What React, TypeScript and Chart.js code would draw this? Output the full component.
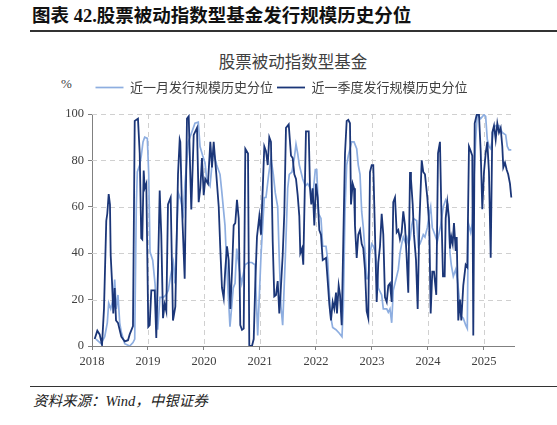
import React, { useEffect, useRef } from "react";
import { Chart, registerables } from "chart.js";

Chart.register(...registerables);

// Time positions are given as years elapsed since the start of BASE_YEAR.
const BASE_YEAR = 2018;
const yearTicks = [2018, 2019, 2020, 2021, 2022, 2023, 2024, 2025];
const valueTicks = [0, 20, 40, 60, 80, 100];
const X_MAX = 2025.536;

const seriesNames = ["近一月发行规模历史分位", "近一季度发行规模历史分位"];

// 近一月发行规模历史分位 (light blue)
const monthT = [
  0.071, 0.161, 0.227, 0.273, 0.298, 0.334, 0.375, 0.405, 0.434, 0.464, 0.495, 0.523, 0.584, 0.673, 0.732, 0.763,
  0.791, 0.809, 0.852, 0.88, 0.911, 0.941, 0.988, 1.013, 1.036, 1.084, 1.125, 1.173, 1.214, 1.273, 1.321, 1.363,
  1.402, 1.452, 1.482, 1.541, 1.584, 1.63, 1.661, 1.72, 1.78, 1.839, 1.898, 1.929, 1.977, 2.018, 2.048, 2.107,
  2.166, 2.227, 2.286, 2.316, 2.375, 2.405, 2.464, 2.523, 2.554, 2.584, 2.643, 2.673, 2.732, 2.791, 2.852, 2.911,
  2.959, 3.018, 3.077, 3.107, 3.155, 3.196, 3.238, 3.273, 3.316, 3.345, 3.375, 3.405, 3.452, 3.495, 3.523, 3.571,
  3.613, 3.643, 3.673, 3.702, 3.763, 3.809, 3.852, 3.898, 3.941, 3.988, 4.013, 4.048, 4.089, 4.12, 4.179, 4.209,
  4.238, 4.268, 4.298, 4.357, 4.416, 4.464, 4.488, 4.518, 4.548, 4.577, 4.637, 4.679, 4.727, 4.755, 4.786, 4.816,
  4.845, 4.875, 4.905, 4.934, 4.964, 4.995, 5.023, 5.054, 5.084, 5.113, 5.173, 5.202, 5.263, 5.291, 5.321, 5.352,
  5.38, 5.411, 5.441, 5.47, 5.5, 5.53, 5.559, 5.589, 5.62, 5.648, 5.679, 5.709, 5.738, 5.798, 5.827, 5.857,
  5.888, 5.916, 5.946, 5.988, 6.023, 6.048, 6.077, 6.107, 6.166, 6.227, 6.273, 6.316, 6.357, 6.393, 6.416, 6.452,
  6.495, 6.523, 6.554, 6.584, 6.63, 6.673, 6.702, 6.72, 6.763, 6.791, 6.821, 6.852, 6.88, 6.941, 7.0, 7.03,
  7.059, 7.089, 7.12, 7.148, 7.179, 7.209, 7.268, 7.327, 7.388, 7.416, 7.446, 7.488,
];
const monthValues = [
  3, 1, 4, 10, 18.5, 16, 20, 28.6, 16, 22, 10, 6, 1, 0, 1.5, 3,
  60, 75, 78, 82, 88, 90, 89.5, 74, 40.6, 37, 27, 7, 21, 21, 22, 24,
  30, 36, 27, 66, 63, 57, 70, 88, 92, 96, 96.5, 86, 82, 79, 72, 69,
  84, 78, 74, 67, 52, 35, 8.3, 25, 27, 42, 31, 27, 35, 36, 36, 35,
  4.5, 39, 64, 64, 74, 81, 74, 66, 60, 37, 17, 9, 38, 68, 74, 75,
  81, 87, 83, 78, 72, 69, 70, 68, 64, 76, 76, 57, 55, 43, 43, 37,
  23, 12, 8, 7, 5.5, 4, 17, 58, 78, 82, 88, 88, 85, 78, 74, 58,
  51, 41, 29, 29, 40, 44, 43, 41, 35, 25, 22, 16, 16, 14.5, 16, 10,
  24, 27, 30, 33, 40, 44, 47, 45, 47, 44, 46, 52, 55, 54, 43, 44,
  46, 48, 47, 51, 57, 60, 51, 49, 45, 52, 60, 63, 61, 40, 35, 30,
  33, 29, 22, 13, 12, 9, 7.5, 53, 49, 53, 72, 89, 99.7, 98, 99.7, 99,
  89, 86, 85, 89, 94, 95, 95, 92, 91, 86, 84.5, 84.5,
];

// 近一季度发行规模历史分位 (dark navy)
const quarterT = [
  0.048, 0.095, 0.137, 0.179, 0.214, 0.255, 0.273, 0.298, 0.321, 0.334, 0.357, 0.38, 0.405, 0.429, 0.464, 0.523,
  0.584, 0.643, 0.673, 0.732, 0.763, 0.821, 0.852, 0.88, 0.898, 0.923, 0.941, 0.97, 1.005, 1.03, 1.059, 1.12,
  1.148, 1.179, 1.209, 1.237, 1.268, 1.298, 1.327, 1.357, 1.405, 1.446, 1.488, 1.536, 1.566, 1.577, 1.607, 1.655,
  1.696, 1.727, 1.773, 1.816, 1.875, 1.905, 1.934, 1.964, 1.995, 2.023, 2.071, 2.113, 2.143, 2.173, 2.22, 2.263,
  2.291, 2.321, 2.352, 2.38, 2.411, 2.441, 2.47, 2.5, 2.53, 2.559, 2.589, 2.62, 2.648, 2.679, 2.709, 2.738,
  2.786, 2.809, 2.857, 2.888, 2.916, 2.946, 2.988, 3.018, 3.077, 3.107, 3.138, 3.166, 3.196, 3.227, 3.255, 3.286,
  3.316, 3.345, 3.375, 3.405, 3.434, 3.464, 3.513, 3.554, 3.584, 3.613, 3.643, 3.673, 3.702, 3.72, 3.75, 3.773,
  3.798, 3.821, 3.87, 3.893, 3.916, 3.941, 3.97, 4.0, 4.03, 4.059, 4.089, 4.12, 4.179, 4.209, 4.238, 4.268,
  4.298, 4.327, 4.357, 4.375, 4.405, 4.429, 4.459, 4.488, 4.518, 4.548, 4.577, 4.607, 4.625, 4.655, 4.679, 4.696,
  4.727, 4.755, 4.786, 4.816, 4.845, 4.875, 4.905, 4.934, 4.964, 4.995, 5.023, 5.054, 5.084, 5.113, 5.143, 5.173,
  5.202, 5.232, 5.263, 5.291, 5.321, 5.352, 5.38, 5.411, 5.441, 5.47, 5.5, 5.53, 5.559, 5.589, 5.62, 5.648,
  5.679, 5.696, 5.727, 5.75, 5.786, 5.816, 5.845, 5.888, 5.916, 5.946, 5.988, 6.023, 6.048, 6.077, 6.107, 6.148,
  6.179, 6.214, 6.238, 6.268, 6.298, 6.316, 6.345, 6.375, 6.393, 6.416, 6.441, 6.464, 6.495, 6.513, 6.541, 6.571,
  6.595, 6.63, 6.673, 6.702, 6.732, 6.763, 6.791, 6.809, 6.834, 6.87, 6.911, 6.941, 6.97, 7.0, 7.03, 7.059,
  7.089, 7.12, 7.148, 7.179, 7.209, 7.238, 7.268, 7.298, 7.327, 7.345, 7.375, 7.405, 7.432, 7.464, 7.488,
];
const quarterValues = [
  3, 6.6, 5, 0.5, 16, 54, 57, 65.5, 61, 39, 28, 14, 25, 11, 10, 4,
  2, 2.5, 5, 8.6, 97, 98, 83, 46.5, 46, 75.6, 68, 70, 8.3, 9, 24, 24,
  3.5, 33, 67, 48, 12, 18, 15, 61, 64, 11, 17, 74, 89, 88, 59.5, 29,
  98, 99, 58.8, 91, 94, 62, 68, 81, 65, 72, 70, 88, 77, 88, 74, 60,
  42, 25, 20.7, 33, 43, 37, 16, 32, 52, 53, 63, 55, 9, 7, 7.5, 85,
  83, 0, 0, 3, 27, 47, 56, 48, 86, 84, 78, 90, 88, 45, 21.4, 22,
  28, 14, 26, 39, 57, 94, 95.5, 82, 81, 74, 72, 65, 56, 40, 42, 35,
  65, 92.5, 92.5, 68, 61, 68, 52, 70, 64, 50, 48, 37, 38, 28, 18, 11,
  19, 16, 23, 14, 26, 22, 9, 46, 83, 97, 97.5, 96, 61, 70, 68, 52,
  38, 48, 50, 44, 42, 33, 15, 12, 75, 78, 78, 48, 19, 36, 43, 57,
  48, 21, 19, 26, 27, 19, 62, 64, 49, 50, 46, 49, 58, 52, 38, 23,
  75, 72, 61, 48, 37, 16, 52, 80, 75, 74, 64, 52, 14, 32, 32, 22,
  83, 88, 59, 30, 30, 55, 62, 55, 42, 47, 44, 53, 41, 47, 11, 20,
  11, 26, 35, 34, 86, 84, 82, 4.5, 96, 99.7, 99.7, 84, 59, 75, 83, 88,
  75, 38, 92, 95, 89, 96, 92, 94, 86, 77, 79, 76, 74, 70, 64,
];

const LIGHT = "#8eaee0";
const DARK = "#1b3678";
const GRID = "#d0d0d0";
const AXIS = "#808080";
const SERIF = '"Liberation Serif", "Noto Sans CJK SC", serif';
const CJK = '"Noto Sans CJK SC", "Liberation Serif", sans-serif';

const toPoints = (ts: number[], vs: number[]) => ts.map((t, i) => ({ x: BASE_YEAR + t, y: vs[i] }));

// Adds space between the legend row and the plot area.
const legendGap = {
  id: "legendGap",
  beforeInit(chart: any) {
    const legend = chart.legend;
    if (!legend) return;
    const orig = legend.fit;
    legend.fit = function () {
      orig.call(this);
      this.height += 10;
    };
  },
};

// Dashed grid drawn at the scale tick values, behind the datasets.
const dashedGrid = {
  id: "dashedGrid",
  beforeDatasetsDraw(chart: any) {
    const { ctx, chartArea: a, scales } = chart;
    const xs = scales.x;
    const ys = scales.y;
    ctx.save();
    ctx.strokeStyle = GRID;
    ctx.lineWidth = 1;
    ctx.setLineDash([5, 4]);
    valueTicks.forEach((v) => {
      if (v === 0) return;
      const py = Math.round(ys.getPixelForValue(v)) + 0.5;
      ctx.beginPath();
      ctx.moveTo(a.left, py);
      ctx.lineTo(a.right, py);
      ctx.stroke();
    });
    yearTicks.forEach((v) => {
      if (v === BASE_YEAR) return;
      const px = Math.round(xs.getPixelForValue(v)) + 0.5;
      ctx.beginPath();
      ctx.moveTo(px, a.top);
      ctx.lineTo(px, a.bottom);
      ctx.stroke();
    });
    ctx.restore();
  },
};

function ChartCanvas() {
  const ref = useRef<HTMLCanvasElement | null>(null);
  useEffect(() => {
    if (!ref.current) return;
    const chart = new Chart(ref.current, {
      type: "line",
      data: {
        datasets: [
          {
            label: seriesNames[0],
            data: toPoints(monthT, monthValues),
            borderColor: LIGHT,
            backgroundColor: LIGHT,
            borderWidth: 1.7,
            pointRadius: 0,
            tension: 0,
            order: 1,
          },
          {
            label: seriesNames[1],
            data: toPoints(quarterT, quarterValues),
            borderColor: DARK,
            backgroundColor: DARK,
            borderWidth: 1.8,
            pointRadius: 0,
            tension: 0,
            order: 0,
          },
        ],
      },
      options: {
        responsive: false,
        animation: false,
        events: [],
        layout: { padding: { left: 49, right: 43, top: 0, bottom: 0 } },
        plugins: {
          title: { display: false },
          tooltip: { enabled: false },
          legend: {
            display: true,
            position: "top",
            labels: {
              usePointStyle: true,
              pointStyle: "line",
              pointStyleWidth: 28,
              padding: 4,
              color: "#404040",
              font: { family: CJK, size: 13 },
              sort: (a: any, b: any) => a.datasetIndex - b.datasetIndex,
            },
          },
        },
        scales: {
          x: {
            type: "linear",
            min: BASE_YEAR,
            max: X_MAX,
            afterBuildTicks: (scale: any) => {
              scale.ticks = yearTicks.map((v) => ({ value: v }));
            },
            afterFit: (scale: any) => {
              scale.height = 31;
            },
            ticks: {
              callback: (v: any) => String(v),
              color: "#404040",
              font: { family: SERIF, size: 12.5 },
              padding: 4,
              maxRotation: 0,
              autoSkip: false,
            },
            grid: {
              display: true,
              drawOnChartArea: false,
              drawTicks: true,
              tickLength: 4,
              color: AXIS,
              tickColor: AXIS,
              tickWidth: 1,
            },
            border: { display: true, color: AXIS, width: 1 },
          },
          y: {
            min: 0,
            max: 100,
            afterBuildTicks: (scale: any) => {
              scale.ticks = valueTicks.map((v) => ({ value: v }));
            },
            afterFit: (scale: any) => {
              scale.width = 43;
            },
            ticks: {
              color: "#404040",
              font: { family: SERIF, size: 12.5 },
              padding: 4,
            },
            grid: {
              display: true,
              drawOnChartArea: false,
              drawTicks: true,
              tickLength: 4,
              color: AXIS,
              tickColor: AXIS,
              tickWidth: 1,
            },
            border: { display: true, color: AXIS, width: 1 },
          },
        },
      },
      plugins: [legendGap, dashedGrid],
    } as any);
    return () => chart.destroy();
  }, []);
  return (
    <canvas
      ref={ref}
      width={557}
      height={300}
      style={{ position: "absolute", left: 0, top: 77, width: 557, height: 300 }}
    />
  );
}

export default function App() {
  return (
    <div
      style={{
        position: "absolute",
        left: 0,
        top: 0,
        width: 557,
        height: 425,
        overflow: "hidden",
        background: "#ffffff",
      }}
    >
      <div
        style={{
          position: "absolute",
          left: 32,
          top: 5,
          fontFamily: SERIF,
          fontWeight: "bold",
          fontSize: 18.5,
          lineHeight: "22px",
          whiteSpace: "nowrap",
          color: "#111",
        }}
      >
        图表 42.股票被动指数型基金发行规模历史分位
      </div>
      <div style={{ position: "absolute", left: 30, top: 30, width: 527, height: 1.5, background: "#333" }} />
      <div
        style={{
          position: "absolute",
          left: 193,
          top: 51,
          width: 200,
          textAlign: "center",
          fontFamily: CJK,
          fontSize: 16.5,
          lineHeight: "20px",
          color: "#404040",
          whiteSpace: "nowrap",
        }}
      >
        股票被动指数型基金
      </div>
      <div
        style={{
          position: "absolute",
          left: 61,
          top: 76,
          fontFamily: SERIF,
          fontSize: 13,
          lineHeight: "16px",
          color: "#404040",
        }}
      >
        %
      </div>
      <ChartCanvas />
      <div style={{ position: "absolute", left: 30, top: 386, width: 527, height: 1.2, background: "#333" }} />
      <div
        style={{
          position: "absolute",
          left: 33,
          top: 392,
          fontFamily: SERIF,
          fontStyle: "italic",
          fontSize: 14.5,
          lineHeight: "18px",
          color: "#222",
          whiteSpace: "nowrap",
        }}
      >
        资料来源：Wind，中银证券
      </div>
    </div>
  );
}
